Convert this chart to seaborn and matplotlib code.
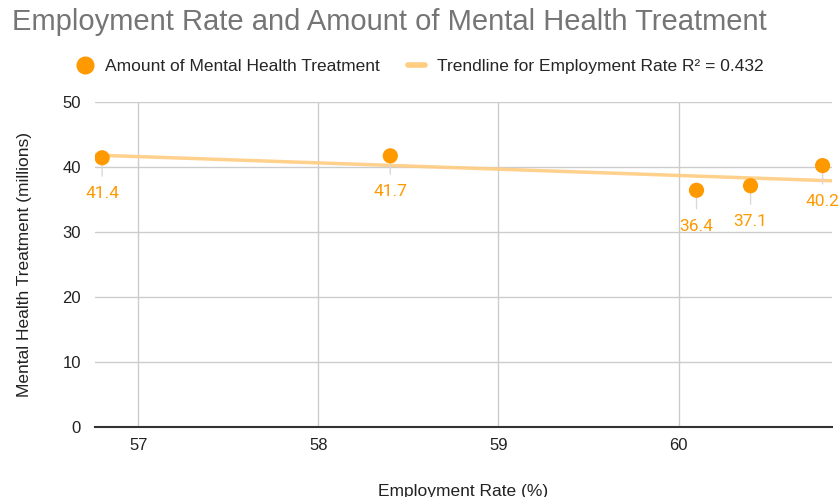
import matplotlib
matplotlib.use("Agg")
import matplotlib.pyplot as plt
import seaborn as sns
import numpy as np
import pandas as pd
from matplotlib.lines import Line2D

# data
employment_rate = [56.8, 58.4, 60.1, 60.4, 60.8]
treatment = [41.4, 41.7, 36.4, 37.1, 40.2]
point_labels = ["41.4", "41.7", "36.4", "37.1", "40.2"]
x_ticks = [57, 58, 59, 60]
y_ticks = [0, 10, 20, 30, 40, 50]

df = pd.DataFrame({"employment": employment_rate, "treatment": treatment})

ORANGE = "#ff9900"
TREND = "#ffcc80"

sns.set_style("white")
plt.rcParams["font.family"] = ["Liberation Sans", "DejaVu Sans"]

fig = plt.figure(figsize=(8.4, 4.97), dpi=100)
ax = fig.add_axes([0.113, 0.141, 0.877, 0.654])

ax.set_xlim(56.76, 60.85)
ax.set_ylim(0, 50)

sns.regplot(data=df, x="employment", y="treatment", scatter=False, ci=None,
            truncate=False, ax=ax,
            line_kws={"color": TREND, "lw": 2.5, "alpha": 0.9, "zorder": 2})
sns.scatterplot(data=df, x="employment", y="treatment", ax=ax, color=ORANGE,
                s=120, edgecolor="none", zorder=4, legend=False)

for xv, yv, lab in zip(employment_rate, treatment, point_labels):
    ax.annotate(lab, xy=(xv, yv), xytext=(0, -26), textcoords="offset points",
                ha="center", va="center", color=ORANGE, fontsize=12.5,
                family=["Roboto", "DejaVu Sans"],
                arrowprops=dict(arrowstyle="-", color="#d9d9d9", lw=1,
                                shrinkA=5, shrinkB=3))

# r squared for legend
r2 = np.corrcoef(employment_rate, treatment)[0, 1] ** 2

ax.set_xticks(x_ticks)
ax.set_yticks(y_ticks)
ax.grid(True, color="#cccccc", lw=1)
ax.set_axisbelow(True)
for s in ["top", "right", "left"]:
    ax.spines[s].set_visible(False)
ax.spines["bottom"].set_color("#333333")
ax.spines["bottom"].set_linewidth(1.5)
ax.tick_params(axis="both", length=0, labelsize=12, colors="#222222", pad=8)
ax.tick_params(axis="y", pad=10)

ax.set_xlabel("Employment Rate (%)", fontsize=12.5, color="#222222", labelpad=22)
ax.set_ylabel("Mental Health Treatment (millions)", fontsize=12.5, color="#222222",
              labelpad=22)

fig.text(0.014, 0.955, "Employment Rate and Amount of Mental Health Treatment",
         fontsize=21, color="#757575", ha="left", va="center")

handles = [
    Line2D([], [], marker="o", color=ORANGE, ls="none", markersize=12),
    Line2D([], [], color=TREND, lw=4),
]
labels = ["Amount of Mental Health Treatment",
          f"Trendline for Employment Rate R\u00b2 = {r2:.3f}"]
fig.legend(handles, labels, loc="center", bbox_to_anchor=(0.5, 0.867), ncol=2,
           frameon=False, fontsize=12.5, handlelength=1.0, columnspacing=1.6,
           handletextpad=0.7)

plt.savefig("out.png", dpi=100)
